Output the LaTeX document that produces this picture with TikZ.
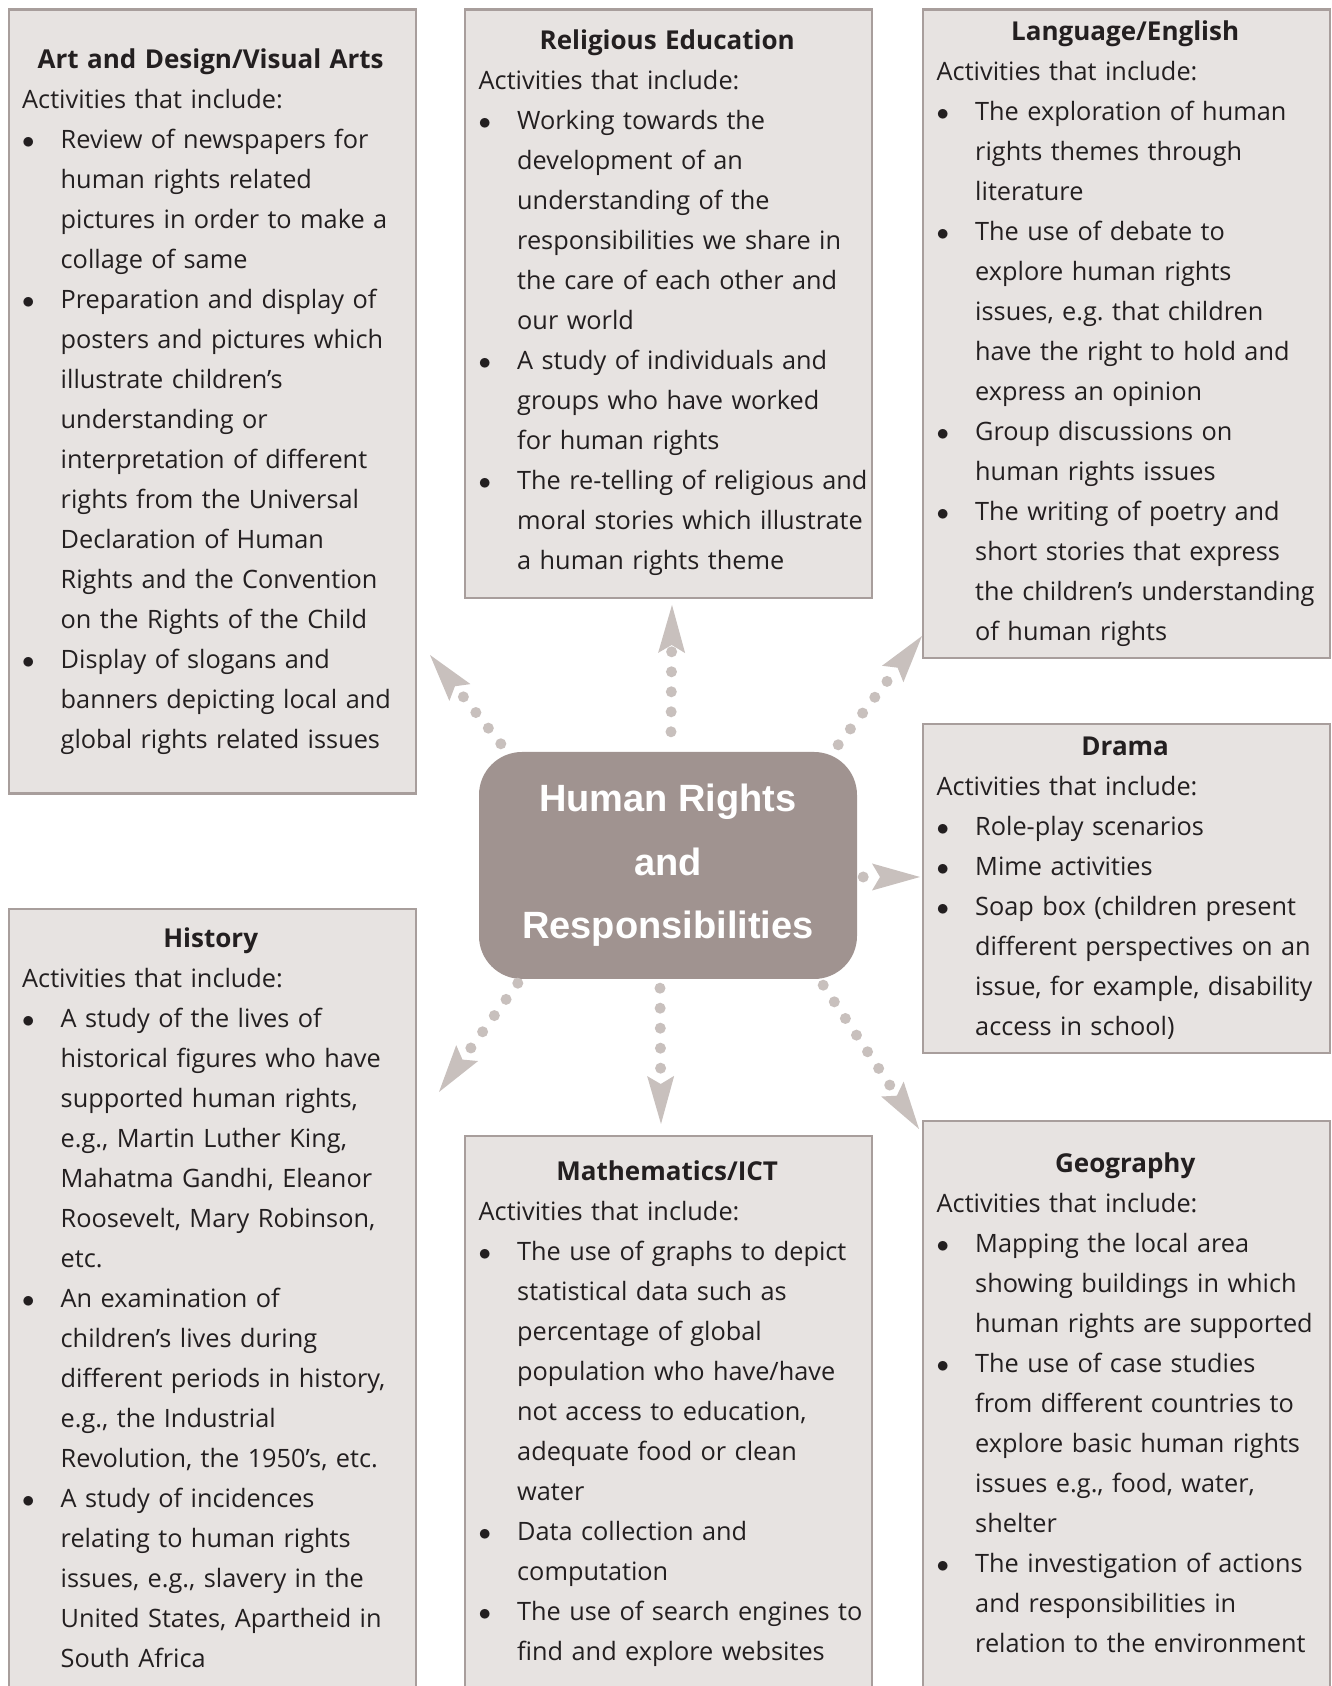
\documentclass[tikz,border=0pt]{standalone}
\usepackage{fontspec}
\setmainfont{Open Sans}
\newfontfamily\hubfont{Liberation Sans}
\usepackage{tikz}
\usetikzlibrary{arrows.meta}
\setlength{\parindent}{0pt}
\frenchspacing
\definecolor{boxfill}{HTML}{E7E3E1}
\definecolor{boxline}{HTML}{A89E9C}
\definecolor{hubfill}{HTML}{A09390}
\definecolor{linkgrey}{HTML}{C8C0BD}
\definecolor{inkdark}{HTML}{231F20}
\tikzstyle{subject}=[draw=boxline,fill=boxfill,line width=2.2pt,anchor=north west,minimum width=407pt,inner sep=0pt]
\tikzstyle{subject text}=[anchor=north west,inner sep=0pt,text width=400pt,align=left,text=inkdark,font=\fontsize{25.3}{40}\selectfont]
\tikzstyle{hub}=[fill=hubfill,rounded corners=43pt,minimum width=378pt,minimum height=227pt,inner sep=0pt,align=center,text=white,font=\hubfont\bfseries\fontsize{38}{63.5}\selectfont]
\tikzstyle{link}=[draw=linkgrey,line width=11pt,line cap=round,dash pattern=on 0pt off 20pt,-{Stealth[length=48pt,width=27pt,inset=8pt,line width=0pt]}]
\newcommand{\subj}[1]{\rule{0pt}{28pt}\makebox[377pt]{\fontsize{26}{40}\selectfont\bfseries #1}\par}
\newcommand{\itm}{\par\noindent\hangindent=38.5pt\hangafter=0\llap{\makebox[38.5pt][l]{$\bullet$}}}
\newcommand{\nl}{\unskip\nobreak\hfil\break}

\begin{document}
\begin{tikzpicture}[x=1pt,y=1pt]
    \fill[white] (0,0) rectangle (1332,1686);
    \useasboundingbox (0,0) rectangle (1332,1686);
    % arrow tips
    \coordinate (tipUL) at (430,1031);
    \coordinate (tipU) at (672,1081);
    \coordinate (tipUR) at (922,1050);
    \coordinate (tipR) at (920,809);
    \coordinate (tipDR) at (919,557);
    \coordinate (tipD) at (661,562);
    \coordinate (tipDL) at (439,594);
    \node[hub] (hr) at (668,820.5) {Human Rights\\and\\Responsibilities};
    \foreach \from/\dx/\dy/\to in {north west/22/8/tipUL, north/3/20/tipU, north east/-19/7/tipUR,
        east/6/-11.5/tipR, south east/-34/-6/tipDR, south/-8/-9/tipD, south west/39/-4/tipDL}
        \path[link] ([shift={(\dx,\dy)}]hr.\from) -- (\to);
    % subject boxes
    \foreach \pos/\name/\h in {{(7.5,1677.5)/art/784}, {(464,1677.5)/rel/588.5}, {(922,1677.5)/lang/648.5},
        {(922,963)/drama/329}, {(7.5,778)/hist/800}, {(464,551)/math/600}, {(922,566)/geo/600}}
        \node[subject,minimum height=\h] (\name) at \pos {};
    \node[subject text] (arttxt) at (22,1646) {\subj{Art and Design/Visual Arts}
        Activities that include:
        \itm Review of newspapers for\nl human rights related\nl pictures in order to make a\nl collage of same
        \itm Preparation and display of\nl posters and pictures which\nl illustrate children’s\nl understanding or\nl interpretation of different\nl rights from the Universal\nl Declaration of Human\nl Rights and the Convention\nl on the Rights of the Child
        \itm Display of slogans and\nl banners depicting local and\nl global rights related issues\par};
    \node[subject text] (reltxt) at (478.5,1665) {\subj{Religious Education}
        Activities that include:
        \itm Working towards the\nl development of an\nl understanding of the\nl responsibilities we share in\nl the care of each other and\nl our world
        \itm A study of individuals and\nl groups who have worked\nl for human rights
        \itm The re-telling of religious and\nl moral stories which illustrate\nl a human rights theme\par};
    \node[subject text] (langtxt) at (936.5,1673.5) {\subj{Language/English}
        Activities that include:
        \itm The exploration of human\nl rights themes through\nl literature
        \itm The use of debate to\nl explore human rights\nl issues, e.g. that children\nl have the right to hold and\nl express an opinion
        \itm Group discussions on\nl human rights issues
        \itm The writing of poetry and\nl short stories that express\nl the children’s understanding\nl of human rights\par};
    \node[subject text] (dramatxt) at (936.5,959) {\subj{Drama}
        Activities that include:
        \itm Role-play scenarios
        \itm Mime activities
        \itm Soap box (children present\nl different perspectives on an\nl issue, for example, disability\nl access in school)\par};
    \node[subject text] (histtxt) at (22,767) {\subj{History}
        Activities that include:
        \itm A study of the lives of\nl historical figures who have\nl supported human rights,\nl e.g., Martin Luther King,\nl Mahatma Gandhi, Eleanor\nl Roosevelt, Mary Robinson,\nl etc.
        \itm An examination of\nl children’s lives during\nl different periods in history,\nl e.g., the Industrial\nl Revolution, the 1950’s, etc.
        \itm A study of incidences\nl relating to human rights\nl issues, e.g., slavery in the\nl United States, Apartheid in\nl South Africa\par};
    \node[subject text] (mathtxt) at (478.5,534) {\subj{Mathematics/ICT}
        Activities that include:
        \itm The use of graphs to depict\nl statistical data such as\nl percentage of global\nl population who have/have\nl not access to education,\nl adequate food or clean\nl water
        \itm Data collection and\nl computation
        \itm The use of search engines to\nl find and explore websites\par};
    \node[subject text] (geotxt) at (936.5,542) {\subj{Geography}
        Activities that include:
        \itm Mapping the local area\nl showing buildings in which\nl human rights are supported
        \itm The use of case studies\nl from different countries to\nl explore basic human rights\nl issues e.g., food, water,\nl shelter
        \itm The investigation of actions\nl and responsibilities in\nl relation to the environment\par};
\end{tikzpicture}
\end{document}
